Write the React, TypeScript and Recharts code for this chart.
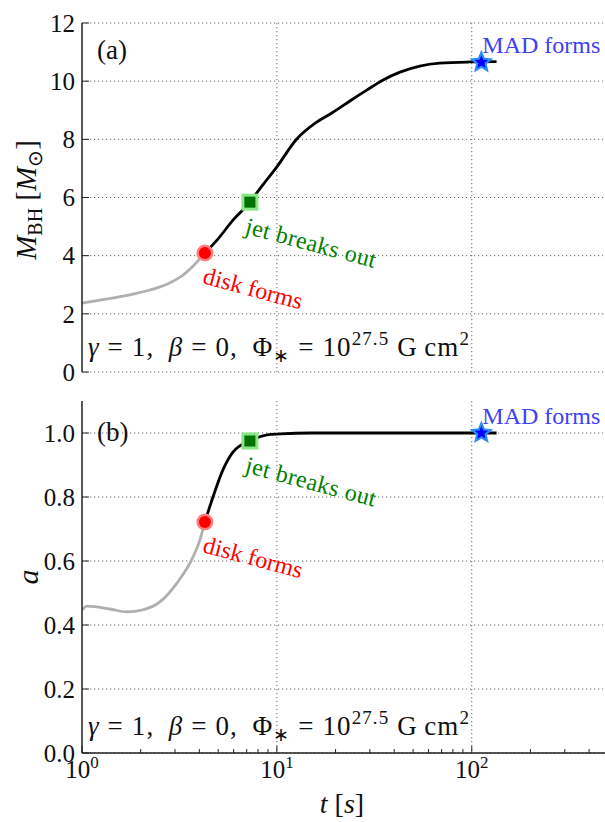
import React from "react";
import { ComposedChart, Line, Scatter, XAxis, YAxis, CartesianGrid } from "recharts";

const FONT = "Liberation Serif, serif";

// time axis (log)
const majorTicks = [1, 10, 100];
const minorTicks = [2, 3, 4, 5, 6, 7, 8, 9, 20, 30, 40, 50, 60, 70, 80, 90, 200, 300, 400, 500];
const allTicks = [...majorTicks, ...minorTicks].sort((a, b) => a - b);

// panel (a): black hole mass [Msun]
const mbhGrayT = [1.0, 1.237, 1.826, 2.231, 2.727, 3.184, 3.708, 4.27];
const mbhGrayV = [2.37, 2.47, 2.68, 2.82, 3.02, 3.26, 3.64, 4.09];
const mbhBlackT = [4.27, 4.98, 5.95, 7.27, 8.37, 9.89, 12.65, 16.0, 19.4, 23.6, 28.9, 34.9, 42.8, 54.1, 68.4, 98.3, 134];
const mbhBlackV = [4.09, 4.57, 5.22, 5.84, 6.39, 7.01, 8.01, 8.59, 8.93, 9.31, 9.69, 10.03, 10.31, 10.52, 10.62, 10.66, 10.67];
const mbhTicks = [0, 2, 4, 6, 8, 10, 12];

// panel (b): spin
const spinGrayT = [1.0, 1.06, 1.39, 1.7, 2.05, 2.51, 3.07, 3.71, 4.03, 4.27];
const spinGrayV = [0.447, 0.459, 0.45, 0.441, 0.447, 0.472, 0.531, 0.612, 0.666, 0.722];
const spinBlackT = [4.27, 4.7, 5.28, 5.95, 7.27, 8.88, 10.4, 15, 30, 60, 134];
const spinBlackV = [0.722, 0.8, 0.884, 0.94, 0.975, 0.994, 0.997, 1.0, 1.0, 1.0, 1.0];
const spinTicks = [0, 0.2, 0.4, 0.6, 0.8, 1.0];

// events
const eventKinds = ["disk", "jet", "mad"];
const eventLabels = ["disk forms", "jet breaks out", "MAD forms"];
const eventT = [4.27, 7.27, 112];
const eventMbh = [4.09, 5.84, 10.65];
const eventSpin = [0.722, 0.975, 1.0];

const zip = (ts: number[], vs: number[]) => ts.map((t, i) => ({ t, v: vs[i] }));
const events = (vs: number[]) =>
  eventT.map((t, i) => ({ t, v: vs[i], kind: eventKinds[i], label: eventLabels[i] }));

const eventStyle: Record<string, any> = {
  disk: { color: "#ff0000", dx: -3, dy: 30, angle: 15, spacing: 0 },
  jet: { color: "#008000", dx: -6, dy: 31, angle: 15, spacing: 0.4 },
  mad: { color: "#4040f5", dx: 1, dy: -9, angle: 0, spacing: 0 },
};

const starPoints = (cx: number, cy: number, r: number) => {
  const pts: string[] = [];
  for (let i = 0; i < 10; i++) {
    const rr = i % 2 === 0 ? r : r * 0.45;
    const a = -Math.PI / 2 + (i * Math.PI) / 5;
    pts.push(`${cx + rr * Math.cos(a)},${cy + rr * Math.sin(a)}`);
  }
  return pts.join(" ");
};

const EventMarker = (props: any) => {
  const { cx, cy, payload } = props;
  const s = eventStyle[payload.kind];
  let marker;
  if (payload.kind === "disk") {
    marker = (
      <g>
        <circle cx={cx} cy={cy} r={8.5} fill="#ff8080" />
        <circle cx={cx} cy={cy} r={6} fill="#ff0000" />
      </g>
    );
  } else if (payload.kind === "jet") {
    marker = (
      <g>
        <rect x={cx - 8.5} y={cy - 8.5} width={17} height={17} fill="#88e888" />
        <rect x={cx - 5.5} y={cy - 5.5} width={11} height={11} fill="#007000" />
      </g>
    );
  } else {
    marker = (
      <g>
        <polygon points={starPoints(cx, cy, 12.5)} fill="#2a8cff" />
        <polygon points={starPoints(cx, cy, 7)} fill="#0000ff" />
      </g>
    );
  }
  const tx = cx + s.dx;
  const ty = cy + s.dy;
  return (
    <g>
      {marker}
      <text
        x={tx}
        y={ty}
        fill={s.color}
        fontSize={24}
        style={{ fontFamily: FONT, letterSpacing: s.spacing }}
        transform={`rotate(${s.angle}, ${tx}, ${ty})`}
      >
        {payload.label}
      </text>
    </g>
  );
};

const XTick = (props: any) => {
  const { x, y, payload, side, labels } = props;
  const major = majorTicks.includes(payload.value);
  const len = major ? 7 : 4;
  const dir = side === "top" ? 1 : -1;
  return (
    <g>
      <line x1={x} x2={x} y1={y} y2={y + dir * len} stroke="#222" strokeWidth={1} />
      {labels && major && (
        <text x={x} y={y + 25} textAnchor="middle" fontSize={25} fill="#111" style={{ fontFamily: FONT }}>
          10
          <tspan dy={-10} fontSize={17}>
            {Math.round(Math.log10(payload.value))}
          </tspan>
        </text>
      )}
    </g>
  );
};

const YTick = (props: any) => {
  const { x, y, payload, fmt, side } = props;
  const dir = side === "right" ? -1 : 1;
  return (
    <g>
      <line x1={x} x2={x + dir * 7} y1={y} y2={y} stroke="#222" strokeWidth={1} />
      {side !== "right" && (
        <text x={x - 7} y={y} dy="0.35em" textAnchor="end" fontSize={25} fill="#111" style={{ fontFamily: FONT }}>
          {fmt(payload.value)}
        </text>
      )}
    </g>
  );
};

const axisLine = { stroke: "#222", strokeWidth: 1.5 };

function Panel(props: {
  gray: { t: number; v: number }[];
  black: { t: number; v: number }[];
  marks: any[];
  yDomain: number[];
  yTicks: number[];
  fmt: (v: number) => string;
  height: number;
  margin: any;
  xHeight: number;
  xLabels: boolean;
}) {
  const { gray, black, marks, yDomain, yTicks, fmt, height, margin, xHeight, xLabels } = props;
  return (
    <ComposedChart width={610} height={height} margin={margin}>
      <CartesianGrid
        stroke="#666"
        strokeDasharray="1.2 2.8"
        verticalValues={[10, 100]}
        horizontalValues={yTicks}
      />
      <XAxis
        dataKey="t"
        type="number"
        scale="log"
        domain={[1, 500]}
        allowDataOverflow
        ticks={allTicks}
        interval={0}
        height={xHeight}
        tickSize={0}
        tickMargin={0}
        axisLine={axisLine}
        tickLine={false}
        tick={(p: any) => <XTick {...p} side="bottom" labels={xLabels} />}
      />
      <XAxis
        xAxisId="top"
        orientation="top"
        type="number"
        scale="log"
        domain={[1, 500]}
        allowDataOverflow
        ticks={allTicks}
        interval={0}
        height={0}
        tickSize={0}
        tickMargin={0}
        axisLine={axisLine}
        tickLine={false}
        tick={(p: any) => <XTick {...p} side="top" labels={false} />}
      />
      <YAxis
        dataKey="v"
        type="number"
        domain={yDomain}
        allowDataOverflow
        ticks={yTicks}
        interval={0}
        width={74}
        tickSize={0}
        tickMargin={0}
        axisLine={axisLine}
        tickLine={false}
        tick={(p: any) => <YTick {...p} fmt={fmt} side="left" />}
      />
      <YAxis
        yAxisId="right"
        orientation="right"
        type="number"
        domain={yDomain}
        allowDataOverflow
        ticks={yTicks}
        interval={0}
        width={0}
        tickSize={0}
        tickMargin={0}
        axisLine={axisLine}
        tickLine={false}
        tick={(p: any) => <YTick {...p} fmt={fmt} side="right" />}
      />
      <Line data={gray} dataKey="v" type="monotone" stroke="#b0b0b0" strokeWidth={2.8} dot={false} isAnimationActive={false} />
      <Line data={black} dataKey="v" type="monotone" stroke="#000" strokeWidth={2.8} dot={false} isAnimationActive={false} />
      <Scatter data={marks} dataKey="v" shape={(p: any) => <EventMarker {...p} />} isAnimationActive={false} />
    </ComposedChart>
  );
}

const FieldNote = ({ x, y }: { x: number; y: number }) => (
  <text x={x} y={y} fontSize={27} fill="#111" style={{ fontFamily: FONT, letterSpacing: 1.1 }}>
    <tspan fontStyle="italic">γ</tspan>
    {"\u00a0=\u00a01,\u2002"}
    <tspan fontStyle="italic">β</tspan>
    {"\u00a0=\u00a00,\u2002Φ"}
    <tspan dy={6} fontSize={19}>∗</tspan>
    <tspan dy={-6}>{"\u00a0=\u00a010"}</tspan>
    <tspan dy={-11} fontSize={19}>27.5</tspan>
    <tspan dy={11}>{"\u00a0G\u2009cm"}</tspan>
    <tspan dy={-11} fontSize={19}>2</tspan>
  </text>
);

export default function App() {
  return (
    <>
      <style>{"body { margin: 0; }"}</style>
      <div style={{ position: "relative", width: 605, height: 822, fontFamily: FONT }}>
        <div
          style={{
            position: "absolute",
            left: 8,
            top: 8,
            width: 597,
            height: 814,
            overflow: "hidden",
          }}
        >
          <div style={{ position: "absolute", left: 0, top: 0 }}>
            <Panel
              gray={zip(mbhGrayT, mbhGrayV)}
              black={zip(mbhBlackT, mbhBlackV)}
              marks={events(eventMbh)}
              yDomain={[0, 12]}
              yTicks={mbhTicks}
              fmt={(v) => String(v)}
              height={382}
              margin={{ top: 15, right: 10, bottom: 18, left: 0 }}
              xHeight={0}
              xLabels={false}
            />
          </div>
          <div style={{ position: "absolute", left: 0, top: 370 }}>
            <Panel
              gray={zip(spinGrayT, spinGrayV)}
              black={zip(spinBlackT, spinBlackV)}
              marks={events(eventSpin)}
              yDomain={[0, 1.1]}
              yTicks={spinTicks}
              fmt={(v) => v.toFixed(1)}
              height={444}
              margin={{ top: 23, right: 10, bottom: 0, left: 0 }}
              xHeight={69}
              xLabels={true}
            />
          </div>
          <svg
            width={597}
            height={814}
            style={{ position: "absolute", left: 0, top: 0, pointerEvents: "none" }}
          >
            <text x={89} y={51} fontSize={27} fill="#111" style={{ fontFamily: FONT }}>(a)</text>
            <text x={89} y={433} fontSize={27} fill="#111" style={{ fontFamily: FONT }}>(b)</text>
            <FieldNote x={80} y={348} />
            <FieldNote x={80} y={727} />
            <text
              x={28}
              y={192}
              textAnchor="middle"
              fontSize={29}
              fill="#111"
              style={{ fontFamily: FONT }}
              transform="rotate(-90, 28, 192)"
            >
              <tspan fontStyle="italic">M</tspan>
              <tspan dy={6} fontSize={20}>BH</tspan>
              <tspan dy={-6}>{"\u00a0["}</tspan>
              <tspan fontStyle="italic">M</tspan>
              <tspan dy={6} fontSize={20}>⊙</tspan>
              <tspan dy={-6}>]</tspan>
            </text>
            <text
              x={30}
              y={569}
              textAnchor="middle"
              fontSize={30}
              fill="#111"
              fontStyle="italic"
              style={{ fontFamily: FONT }}
              transform="rotate(-90, 30, 569)"
            >
              a
            </text>
            <text x={334} y={805} textAnchor="middle" fontSize={28} fill="#111" style={{ fontFamily: FONT }}>
              <tspan fontStyle="italic">t</tspan>
              {"\u00a0["}
              <tspan fontStyle="italic">s</tspan>
              ]
            </text>
          </svg>
        </div>
      </div>
    </>
  );
}
